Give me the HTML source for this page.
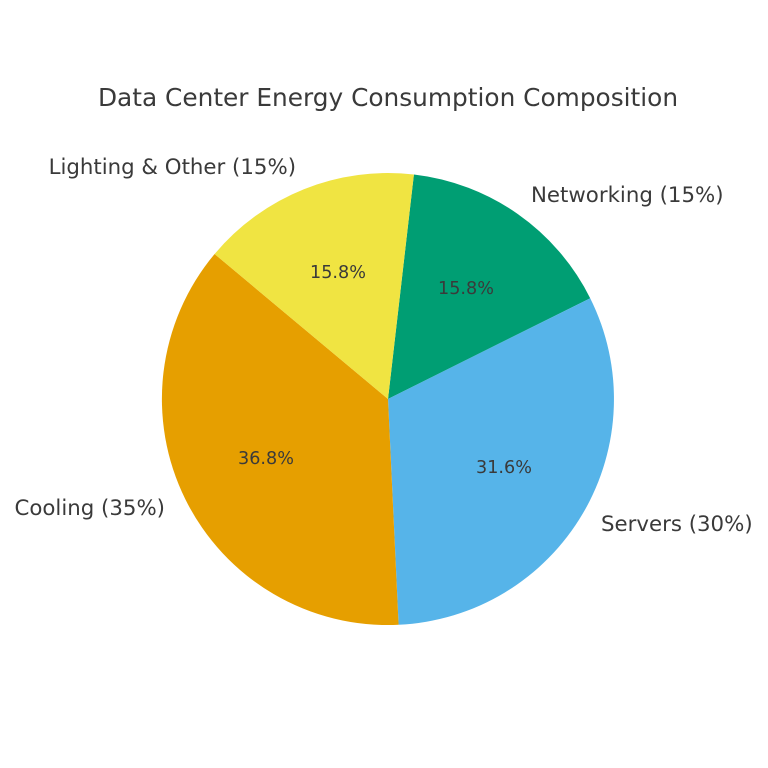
<!DOCTYPE html>
<html><head><meta charset="utf-8"><style>
html,body{margin:0;padding:0;background:#fff}
svg{display:block}
text{font-family:"DejaVu Sans","Liberation Sans",sans-serif;fill:#3a3a3a}
</style></head><body>
<svg width="768" height="768" viewBox="0 0 768 768">
<rect width="768" height="768" fill="#fff"/>
<text x="388" y="106" font-size="24.8" text-anchor="middle">Data Center Energy Consumption Composition</text>
<path d="M388,399 L413.9,174.5 A226,226 0 0 1 590.2,298.2 Z" fill="#009E73"/>
<path d="M388,399 L590.2,298.2 A226,226 0 0 1 398.6,624.8 Z" fill="#56B4E9"/>
<path d="M388,399 L398.6,624.8 A226,226 0 0 1 214.6,254.0 Z" fill="#E69F00"/>
<path d="M388,399 L214.6,254.0 A226,226 0 0 1 413.9,174.5 Z" fill="#F0E442"/>
<text x="466" y="294" font-size="17.6" text-anchor="middle">15.8%</text>
<text x="504" y="473" font-size="17.6" text-anchor="middle">31.6%</text>
<text x="266" y="464" font-size="17.6" text-anchor="middle">36.8%</text>
<text x="338" y="278" font-size="17.6" text-anchor="middle">15.8%</text>
<text x="531" y="202" font-size="21.3">Networking (15%)</text>
<text x="601" y="531" font-size="21.3">Servers (30%)</text>
<text x="165" y="515" font-size="21.3" text-anchor="end">Cooling (35%)</text>
<text x="296" y="174" font-size="21.3" text-anchor="end">Lighting &amp; Other (15%)</text>
</svg>
</body></html>
